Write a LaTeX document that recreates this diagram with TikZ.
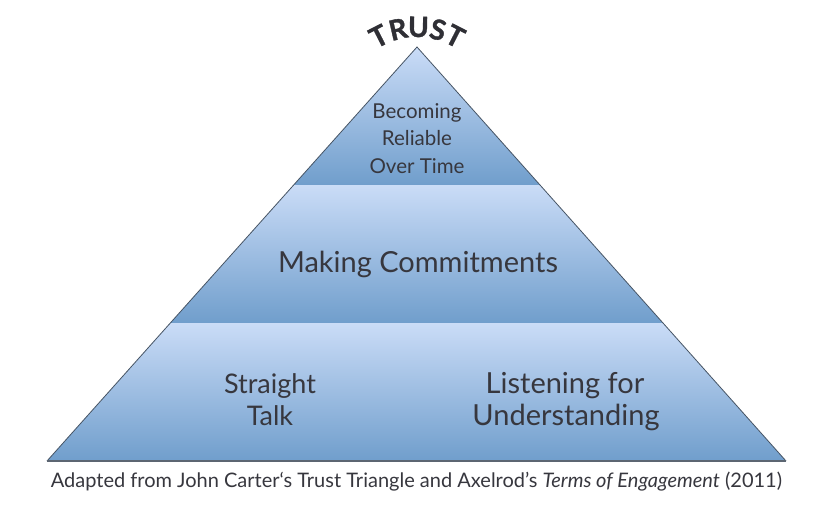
\documentclass[tikz,border=0pt]{standalone}
\usepackage{fontspec}
\setmainfont{Lato}
\usetikzlibrary{calc}
\definecolor{bandtop}{RGB}{202,220,247}
\definecolor{bandbot}{RGB}{112,158,204}
\definecolor{edgecol}{RGB}{70,84,100}
\definecolor{basecol}{RGB}{92,102,114}
\definecolor{ink}{RGB}{55,55,62}
\begin{document}
\begin{tikzpicture}[x=1pt,y=-1pt,
  band/.style={top color=bandtop,bottom color=bandbot,draw=none},
  lbl/.style={text=ink,anchor=base,inner sep=0pt},
  toplbl/.style={lbl,font=\fontsize{20.5}{24}\selectfont},
  midlbl/.style={lbl,font=\fontsize{29}{32}\selectfont},
  botlbl/.style={lbl,font=\fontsize{27}{30}\selectfont},
  botrlbl/.style={lbl,font=\fontsize{29}{32}\selectfont},
  trustletter/.style={text=ink!85!black,anchor=center,inner sep=0pt,font=\fontsize{28}{28}\selectfont\bfseries\addfontfeatures{FakeBold=1.2}},
  captionlbl/.style={lbl,font=\fontsize{20}{22}\selectfont}]
\useasboundingbox (0,0) rectangle (833,509);
\fill[white] (0,0) rectangle (833,509);
\coordinate (apex) at (417,47);
\coordinate (bl) at (47,461);
\coordinate (br) at (786,461);
\coordinate (l1) at ($(apex)!1/3!(bl)$);
\coordinate (r1) at ($(apex)!1/3!(br)$);
\coordinate (l2) at ($(apex)!2/3!(bl)$);
\coordinate (r2) at ($(apex)!2/3!(br)$);
\shade[band] (apex) -- (r1) -- (l1) -- cycle;
\shade[band] (l1) -- (r1) -- (r2) -- (l2) -- cycle;
\shade[band] (l2) -- (r2) -- (br) -- (bl) -- cycle;
\draw[edgecol,line width=0.8pt] (bl) -- (apex) -- (br);
\draw[basecol,line width=2pt] (bl) -- (br);
% TRUST on an arc
\foreach \th/\ch/\nm in {-27/T/ta,-13/R/tb,1/U/tc,14.5/S/td,27/T/te}{
  \node[trustletter,rotate=-\th] (\nm) at ({417+84*sin(\th)},{111-84*cos(\th)}) {\ch};
}
% labels
\node[toplbl] (b1) at (417,118) {Becoming};
\node[toplbl] (b2) at (417,145.5) {Reliable};
\node[toplbl] (b3) at (417,173) {Over Time};
\node[midlbl] (m1) at (418,272) {Making Commitments};
\node[botlbl] (s1) at (270,393) {Straight};
\node[botlbl] (s2) at (270,425) {Talk};
\node[botrlbl] (u1) at (565,393) {Listening for};
\node[botrlbl] (u2) at (566,425) {Understanding};
\node[captionlbl] (cap) at (416.5,487) {Adapted from John Carter‘s Trust Triangle and Axelrod’s \textit{Terms of Engagement} (2011)};
\end{tikzpicture}
\end{document}
